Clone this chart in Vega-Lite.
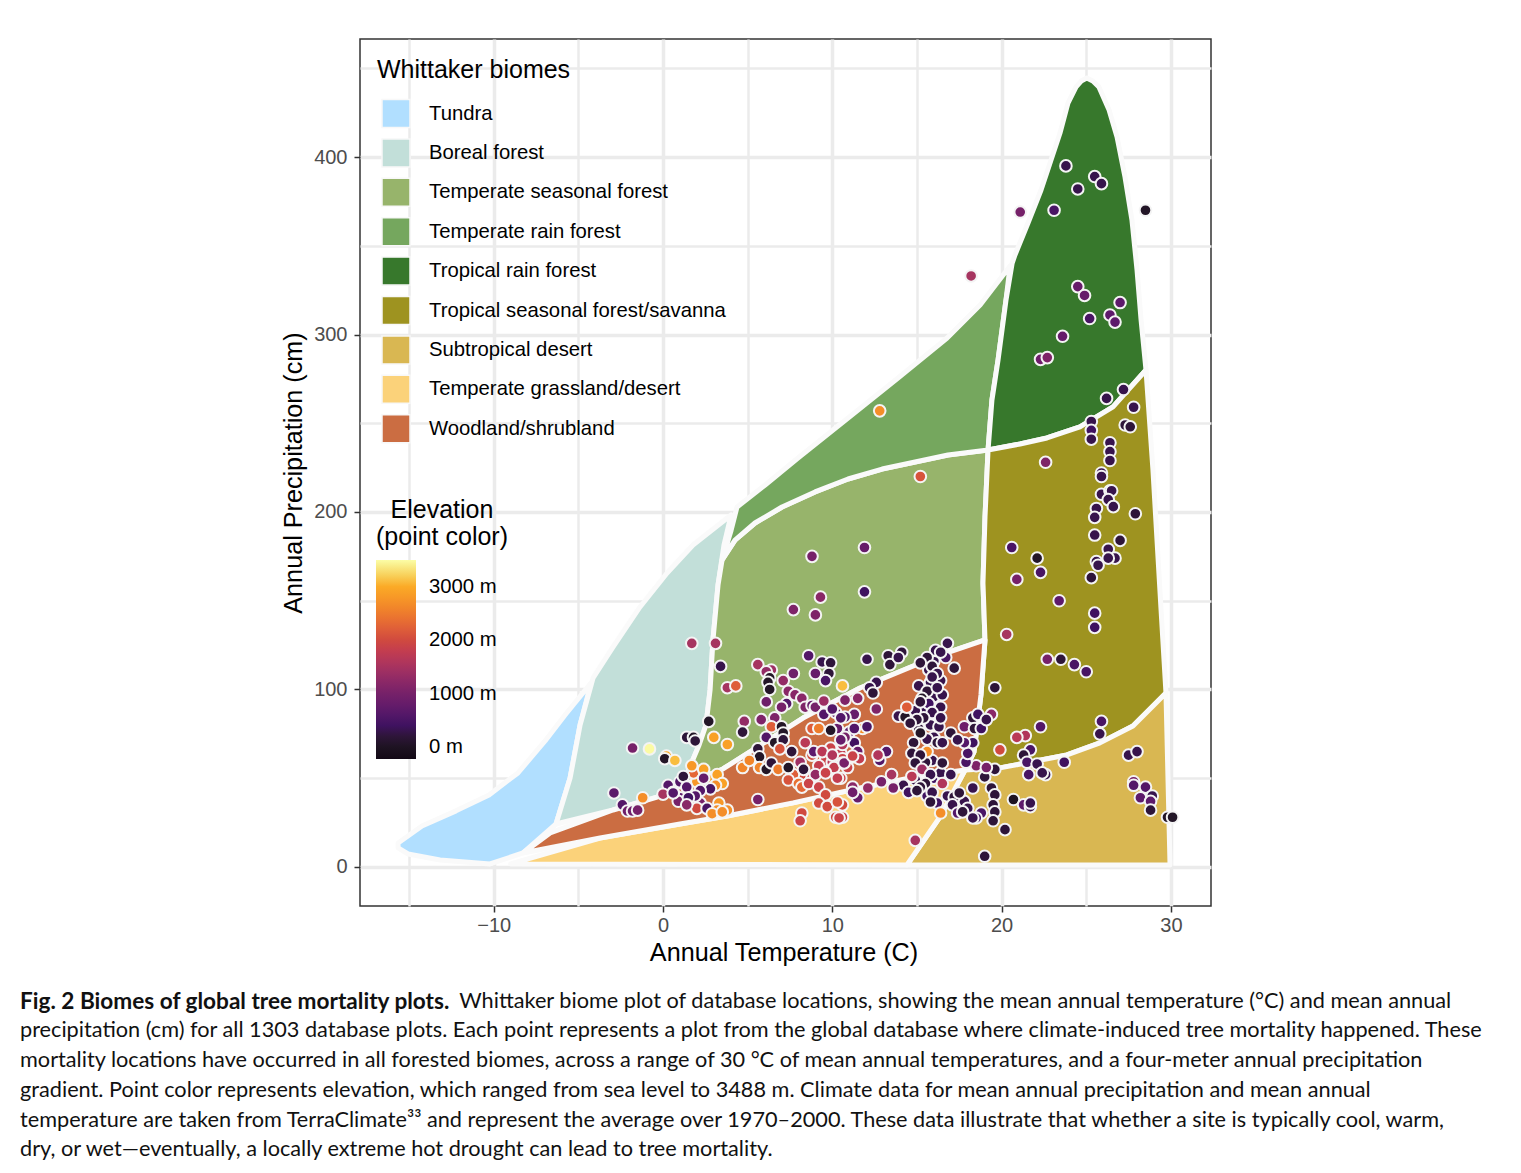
{"$schema":"https://vega.github.io/schema/vega-lite/v6.json","width":851,"height":867,"autosize":"none","padding":{"left":360,"top":39,"right":310,"bottom":267},"background":"white",
"title":{"text":"Fig. 2 Biomes of global tree mortality plots.","subtitle":["\u200b\u2003\u2003\u2003\u2003\u2003\u2003\u2003\u2003\u2003\u2003\u2003\u2003\u2003\u2003\u2003\u2003\u2003\u2003\u2003\u2003\u2003\u2003\u2003\u2003\u2003\u2003\u00a0\u00a0\u00a0Whittaker biome plot of database locations, showing the mean annual temperature (°C) and mean annual","precipitation (cm) for all 1303 database plots. Each point represents a plot from the global database where climate-induced tree mortality happened. These","mortality locations have occurred in all forested biomes, across a range of 30 °C of mean annual temperatures, and a four-meter annual precipitation","gradient. Point color represents elevation, which ranged from sea level to 3488 m. Climate data for mean annual precipitation and mean annual","temperature are taken from TerraClimate³³ and represent the average over 1970–2000. These data illustrate that whether a site is typically cool, warm,","dry, or wet—eventually, a locally extreme hot drought can lead to tree mortality."],"orient":"bottom","anchor":"start","frame":"group","dx":-340,"offset":26,"font":"Lato","fontSize":22.6,"fontWeight":"bold","color":"#111111","subtitleFont":"Lato","subtitleFontSize":21.7,"subtitleColor":"#111111","subtitleLineHeight":29.7,"subtitlePadding":-23},
"config":{"view":{"stroke":"#333333","strokeWidth":1.5}},
"datasets":{"biomes":[
{"b":"Tundra","i":0,"t":-15.65,"p":13.5},{"b":"Tundra","i":1,"t":-14.24,"p":23.1},{"b":"Tundra","i":2,"t":-12.23,"p":31.6},{"b":"Tundra","i":3,"t":-10.28,"p":40.6},{"b":"Tundra","i":4,"t":-8.57,"p":53},{"b":"Tundra","i":5,"t":-6.97,"p":71},{"b":"Tundra","i":6,"t":-5.79,"p":85.6},{"b":"Tundra","i":7,"t":-4.25,"p":103.7},{"b":"Tundra","i":8,"t":-4.9,"p":80},{"b":"Tundra","i":9,"t":-5.49,"p":50.1},{"b":"Tundra","i":10,"t":-6.32,"p":24.2},{"b":"Tundra","i":11,"t":-8.27,"p":7.9},{"b":"Tundra","i":12,"t":-10.22,"p":1.7},{"b":"Tundra","i":13,"t":-13.17,"p":3.9},{"b":"Tundra","i":14,"t":-15.06,"p":7.3},{"b":"Tundra","i":15,"t":-15.65,"p":10.7},
{"b":"Boreal forest","i":0,"t":-4.13,"p":106.5},{"b":"Boreal forest","i":1,"t":-2.95,"p":124},{"b":"Boreal forest","i":2,"t":-1.36,"p":146.5},{"b":"Boreal forest","i":3,"t":0.24,"p":165.6},{"b":"Boreal forest","i":4,"t":1.77,"p":181.4},{"b":"Boreal forest","i":5,"t":4.02,"p":198.3},{"b":"Boreal forest","i":6,"t":3.6,"p":181.4},{"b":"Boreal forest","i":7,"t":3.25,"p":158.9},{"b":"Boreal forest","i":8,"t":2.95,"p":127.9},{"b":"Boreal forest","i":9,"t":2.78,"p":99.7},{"b":"Boreal forest","i":10,"t":2.54,"p":80},{"b":"Boreal forest","i":11,"t":2.13,"p":68.7},{"b":"Boreal forest","i":12,"t":1.71,"p":59.2},{"b":"Boreal forest","i":13,"t":1.18,"p":46.2},{"b":"Boreal forest","i":14,"t":-0.35,"p":39.4},{"b":"Boreal forest","i":15,"t":-2.95,"p":32.1},{"b":"Boreal forest","i":16,"t":-6.32,"p":24.2},{"b":"Boreal forest","i":17,"t":-5.49,"p":50.1},{"b":"Boreal forest","i":18,"t":-4.9,"p":80},
{"b":"Temperate seasonal forest","i":0,"t":3.49,"p":173},{"b":"Temperate seasonal forest","i":1,"t":4.25,"p":184.2},{"b":"Temperate seasonal forest","i":2,"t":5.43,"p":193.8},{"b":"Temperate seasonal forest","i":3,"t":7.03,"p":202.8},{"b":"Temperate seasonal forest","i":4,"t":8.98,"p":211.3},{"b":"Temperate seasonal forest","i":5,"t":10.93,"p":218.6},{"b":"Temperate seasonal forest","i":6,"t":12.94,"p":224.2},{"b":"Temperate seasonal forest","i":7,"t":14.89,"p":228.2},{"b":"Temperate seasonal forest","i":8,"t":16.83,"p":232.1},{"b":"Temperate seasonal forest","i":9,"t":19.2,"p":234.9},{"b":"Temperate seasonal forest","i":10,"t":19.02,"p":197.2},{"b":"Temperate seasonal forest","i":11,"t":18.9,"p":160},{"b":"Temperate seasonal forest","i":12,"t":19.02,"p":127.9},{"b":"Temperate seasonal forest","i":13,"t":16.36,"p":119.4},{"b":"Temperate seasonal forest","i":14,"t":11.64,"p":100.8},{"b":"Temperate seasonal forest","i":15,"t":8.27,"p":83.9},{"b":"Temperate seasonal forest","i":16,"t":3.54,"p":55.2},{"b":"Temperate seasonal forest","i":17,"t":1.18,"p":46.2},{"b":"Temperate seasonal forest","i":18,"t":1.71,"p":59.2},{"b":"Temperate seasonal forest","i":19,"t":2.13,"p":68.7},{"b":"Temperate seasonal forest","i":20,"t":2.54,"p":80},{"b":"Temperate seasonal forest","i":21,"t":2.78,"p":99.7},{"b":"Temperate seasonal forest","i":22,"t":2.95,"p":127.9},{"b":"Temperate seasonal forest","i":23,"t":3.25,"p":158.9},
{"b":"Temperate rain forest","i":0,"t":4.37,"p":202.8},{"b":"Temperate rain forest","i":1,"t":6.03,"p":215.2},{"b":"Temperate rain forest","i":2,"t":7.97,"p":230.4},{"b":"Temperate rain forest","i":3,"t":10.93,"p":253},{"b":"Temperate rain forest","i":4,"t":13.88,"p":275.5},{"b":"Temperate rain forest","i":5,"t":16.78,"p":298},{"b":"Temperate rain forest","i":6,"t":18.73,"p":316.6},{"b":"Temperate rain forest","i":7,"t":20.5,"p":338.6},{"b":"Temperate rain forest","i":8,"t":20.26,"p":319.4},{"b":"Temperate rain forest","i":9,"t":19.79,"p":285.6},{"b":"Temperate rain forest","i":10,"t":19.43,"p":263.1},{"b":"Temperate rain forest","i":11,"t":19.2,"p":234.9},{"b":"Temperate rain forest","i":12,"t":16.83,"p":232.1},{"b":"Temperate rain forest","i":13,"t":14.89,"p":228.2},{"b":"Temperate rain forest","i":14,"t":12.94,"p":224.2},{"b":"Temperate rain forest","i":15,"t":10.93,"p":218.6},{"b":"Temperate rain forest","i":16,"t":8.98,"p":211.3},{"b":"Temperate rain forest","i":17,"t":7.03,"p":202.8},{"b":"Temperate rain forest","i":18,"t":5.43,"p":193.8},{"b":"Temperate rain forest","i":19,"t":4.25,"p":184.2},{"b":"Temperate rain forest","i":20,"t":3.49,"p":173},{"b":"Temperate rain forest","i":21,"t":4.02,"p":189.6},
{"b":"Tropical rain forest","i":0,"t":20.79,"p":344.8},{"b":"Tropical rain forest","i":1,"t":21.56,"p":362.8},{"b":"Tropical rain forest","i":2,"t":22.33,"p":381.4},{"b":"Tropical rain forest","i":3,"t":22.92,"p":398.3},{"b":"Tropical rain forest","i":4,"t":23.45,"p":413.5},{"b":"Tropical rain forest","i":5,"t":23.92,"p":430.4},{"b":"Tropical rain forest","i":6,"t":24.4,"p":439.5},{"b":"Tropical rain forest","i":7,"t":24.7,"p":442.8},{"b":"Tropical rain forest","i":8,"t":25.03,"p":444.5},{"b":"Tropical rain forest","i":9,"t":25.39,"p":442.8},{"b":"Tropical rain forest","i":10,"t":25.75,"p":439.5},{"b":"Tropical rain forest","i":11,"t":26.35,"p":426.5},{"b":"Tropical rain forest","i":12,"t":26.82,"p":411.3},{"b":"Tropical rain forest","i":13,"t":27.29,"p":388.7},{"b":"Tropical rain forest","i":14,"t":27.7,"p":364.5},{"b":"Tropical rain forest","i":15,"t":28,"p":336.4},{"b":"Tropical rain forest","i":16,"t":28.24,"p":308.2},{"b":"Tropical rain forest","i":17,"t":28.53,"p":280},{"b":"Tropical rain forest","i":18,"t":26.58,"p":259.2},{"b":"Tropical rain forest","i":19,"t":24.63,"p":247.9},{"b":"Tropical rain forest","i":20,"t":22.68,"p":241.7},{"b":"Tropical rain forest","i":21,"t":21.09,"p":238.3},{"b":"Tropical rain forest","i":22,"t":19.2,"p":234.9},{"b":"Tropical rain forest","i":23,"t":19.43,"p":263.1},{"b":"Tropical rain forest","i":24,"t":19.79,"p":285.6},{"b":"Tropical rain forest","i":25,"t":20.26,"p":319.4},{"b":"Tropical rain forest","i":26,"t":20.62,"p":340},
{"b":"Tropical seasonal forest/savanna","i":0,"t":19.2,"p":234.9},{"b":"Tropical seasonal forest/savanna","i":1,"t":21.09,"p":238.3},{"b":"Tropical seasonal forest/savanna","i":2,"t":22.68,"p":241.7},{"b":"Tropical seasonal forest/savanna","i":3,"t":24.63,"p":247.9},{"b":"Tropical seasonal forest/savanna","i":4,"t":26.58,"p":259.2},{"b":"Tropical seasonal forest/savanna","i":5,"t":28.53,"p":280},{"b":"Tropical seasonal forest/savanna","i":6,"t":28.94,"p":223.7},{"b":"Tropical seasonal forest/savanna","i":7,"t":29.42,"p":144.8},{"b":"Tropical seasonal forest/savanna","i":8,"t":29.71,"p":98},{"b":"Tropical seasonal forest/savanna","i":9,"t":27.76,"p":79.4},{"b":"Tropical seasonal forest/savanna","i":10,"t":25.81,"p":69.9},{"b":"Tropical seasonal forest/savanna","i":11,"t":23.86,"p":63.1},{"b":"Tropical seasonal forest/savanna","i":12,"t":19.91,"p":55.8},{"b":"Tropical seasonal forest/savanna","i":13,"t":17.84,"p":54.6},{"b":"Tropical seasonal forest/savanna","i":14,"t":18.37,"p":64.8},{"b":"Tropical seasonal forest/savanna","i":15,"t":18.78,"p":96.9},{"b":"Tropical seasonal forest/savanna","i":16,"t":19.02,"p":127.9},{"b":"Tropical seasonal forest/savanna","i":17,"t":18.9,"p":160},{"b":"Tropical seasonal forest/savanna","i":18,"t":19.02,"p":197.2},
{"b":"Subtropical desert","i":0,"t":17.84,"p":54.6},{"b":"Subtropical desert","i":1,"t":19.91,"p":55.8},{"b":"Subtropical desert","i":2,"t":23.86,"p":63.1},{"b":"Subtropical desert","i":3,"t":25.81,"p":69.9},{"b":"Subtropical desert","i":4,"t":27.76,"p":79.4},{"b":"Subtropical desert","i":5,"t":29.71,"p":98},{"b":"Subtropical desert","i":6,"t":29.95,"p":1.1},{"b":"Subtropical desert","i":7,"t":14.41,"p":1.1},{"b":"Subtropical desert","i":8,"t":16.36,"p":28.2},
{"b":"Temperate grassland/desert","i":0,"t":-9,"p":1.7},{"b":"Temperate grassland/desert","i":1,"t":-3.72,"p":16.3},{"b":"Temperate grassland/desert","i":2,"t":1,"p":24.2},{"b":"Temperate grassland/desert","i":3,"t":3.78,"p":28.7},{"b":"Temperate grassland/desert","i":4,"t":7.68,"p":36.1},{"b":"Temperate grassland/desert","i":5,"t":11.64,"p":44.5},{"b":"Temperate grassland/desert","i":6,"t":15.18,"p":51.3},{"b":"Temperate grassland/desert","i":7,"t":17.84,"p":54.6},{"b":"Temperate grassland/desert","i":8,"t":16.36,"p":28.2},{"b":"Temperate grassland/desert","i":9,"t":14.41,"p":1.1},
{"b":"Woodland/shrubland","i":0,"t":-8.27,"p":7.9},{"b":"Woodland/shrubland","i":1,"t":-6.67,"p":19.2},{"b":"Woodland/shrubland","i":2,"t":-2.95,"p":32.1},{"b":"Woodland/shrubland","i":3,"t":-0.35,"p":39.4},{"b":"Woodland/shrubland","i":4,"t":1.18,"p":46.2},{"b":"Woodland/shrubland","i":5,"t":3.54,"p":55.2},{"b":"Woodland/shrubland","i":6,"t":8.27,"p":83.9},{"b":"Woodland/shrubland","i":7,"t":11.64,"p":100.8},{"b":"Woodland/shrubland","i":8,"t":16.36,"p":119.4},{"b":"Woodland/shrubland","i":9,"t":19.02,"p":127.9},{"b":"Woodland/shrubland","i":10,"t":18.78,"p":96.9},{"b":"Woodland/shrubland","i":11,"t":18.37,"p":64.8},{"b":"Woodland/shrubland","i":12,"t":17.84,"p":54.6},{"b":"Woodland/shrubland","i":13,"t":15.18,"p":51.3},{"b":"Woodland/shrubland","i":14,"t":11.64,"p":44.5},{"b":"Woodland/shrubland","i":15,"t":7.68,"p":36.1},{"b":"Woodland/shrubland","i":16,"t":3.78,"p":28.7},{"b":"Woodland/shrubland","i":17,"t":1,"p":24.2},{"b":"Woodland/shrubland","i":18,"t":-3.72,"p":16.3}
],
"plots":[
{"t":16,"p":116,"e":300},{"t":15.7,"p":111,"e":300},{"t":16.4,"p":105,"e":300},{"t":15.8,"p":104,"e":300},{"t":16,"p":96,"e":300},{"t":16.5,"p":97,"e":300},{"t":15.5,"p":89,"e":300},{"t":16.2,"p":86,"e":300},{"t":15.8,"p":80,"e":300},{"t":16.3,"p":79,"e":300},{"t":15.1,"p":78,"e":200},{"t":16,"p":73,"e":300},{"t":15.6,"p":72,"e":300},{"t":13.9,"p":85,"e":300},{"t":14.9,"p":88,"e":300},{"t":15.9,"p":60,"e":300},{"t":15.5,"p":59,"e":200},{"t":16,"p":50,"e":400},{"t":16.4,"p":53,"e":300},{"t":14.9,"p":49,"e":300},{"t":15.6,"p":40,"e":400},{"t":16.8,"p":40,"e":300},{"t":17.8,"p":37,"e":300},{"t":18,"p":33,"e":300},{"t":2,"p":48,"e":2800},{"t":2.7,"p":49,"e":2900},{"t":1,"p":48,"e":600},{"t":3.3,"p":36,"e":2800},{"t":2.2,"p":36,"e":1000},{"t":1,"p":39,"e":700},{"t":0.9,"p":37,"e":1000},{"t":2,"p":33,"e":2000},{"t":8.8,"p":63,"e":2000},{"t":9.6,"p":60,"e":1900},{"t":10,"p":59,"e":1700},{"t":9.9,"p":67,"e":1900},{"t":10.5,"p":64,"e":1800},{"t":8.2,"p":52,"e":2000},{"t":8.8,"p":50,"e":1900},{"t":7.7,"p":52,"e":2200},{"t":11,"p":76,"e":700},{"t":10.3,"p":78,"e":800},{"t":10.9,"p":56,"e":1900},
{"t":23.8,"p":395,"e":300},{"t":24.5,"p":382,"e":300},{"t":25.5,"p":389,"e":300},{"t":25.9,"p":385,"e":300},{"t":28.5,"p":370,"e":100},{"t":21.1,"p":369,"e":1000},{"t":23.1,"p":370,"e":500},{"t":18.2,"p":333,"e":1500},{"t":24.5,"p":327,"e":800},{"t":24.9,"p":322,"e":800},{"t":27,"p":318,"e":700},{"t":26.4,"p":311,"e":700},{"t":26.7,"p":307,"e":700},{"t":25.2,"p":309,"e":500},{"t":23.6,"p":299,"e":800},{"t":22.3,"p":286,"e":900},{"t":22.7,"p":287,"e":1100},{"t":26.2,"p":264,"e":300},{"t":27.2,"p":269,"e":300},{"t":27.8,"p":259,"e":300},{"t":27.3,"p":249,"e":200},{"t":27.6,"p":248,"e":200},{"t":25.3,"p":251,"e":300},{"t":25.3,"p":246,"e":400},{"t":25.3,"p":241,"e":300},{"t":26.4,"p":239,"e":300},{"t":26.4,"p":234,"e":300},{"t":26.4,"p":229,"e":300},{"t":25.9,"p":222,"e":300},{"t":25.9,"p":220,"e":300},{"t":22.6,"p":228,"e":1100},{"t":25.9,"p":210,"e":300},{"t":26.4,"p":212,"e":300},{"t":26.5,"p":212,"e":300},{"t":26.3,"p":207,"e":300},{"t":26.6,"p":203,"e":300},{"t":25.6,"p":202,"e":300},{"t":25.5,"p":197,"e":300},{"t":27.9,"p":199,"e":200},{"t":25.5,"p":187,"e":300},{"t":27,"p":184,"e":200},{"t":26.3,"p":179,"e":300},{"t":26.7,"p":174,"e":300},{"t":26.3,"p":174,"e":300},{"t":25.6,"p":172,"e":300},{"t":25.7,"p":170,"e":300},{"t":25.3,"p":163,"e":200},{"t":20.6,"p":180,"e":500},{"t":22.1,"p":174,"e":100},{"t":22.3,"p":166,"e":500},{"t":20.9,"p":162,"e":1000},{"t":23.4,"p":150,"e":700},{"t":25.5,"p":143,"e":400},{"t":25.5,"p":135,"e":400},{"t":20.3,"p":131,"e":1500},{"t":22.7,"p":117,"e":1000},{"t":23.5,"p":117,"e":200},{"t":24.3,"p":114,"e":500},{"t":25,"p":110,"e":500},{"t":19.6,"p":101,"e":200},{"t":25.9,"p":82,"e":500},{"t":25.8,"p":75,"e":300},{"t":22.3,"p":79,"e":600},{"t":21.4,"p":74,"e":1600},{"t":20.9,"p":73,"e":1700},{"t":19.9,"p":66,"e":2000},{"t":21.7,"p":66,"e":500},{"t":21.3,"p":63,"e":200},{"t":21.5,"p":59,"e":500},{"t":22.1,"p":58,"e":300},{"t":21.6,"p":52,"e":500},{"t":22.6,"p":52,"e":300},{"t":22.4,"p":53,"e":300},{"t":23.7,"p":59,"e":400},{"t":27.5,"p":63,"e":300},{"t":28,"p":65,"e":300},{"t":27.8,"p":48,"e":1000},{"t":27.8,"p":46,"e":600},{"t":28.5,"p":45,"e":600},{"t":28.9,"p":40,"e":300},{"t":28.2,"p":39,"e":700},{"t":28.8,"p":37,"e":700},{"t":28.8,"p":32,"e":200},{"t":29.8,"p":28,"e":100},{"t":30.1,"p":28,"e":100},{"t":20.7,"p":38,"e":0},{"t":21.3,"p":35,"e":700},{"t":21.7,"p":34,"e":300},{"t":21.7,"p":36,"e":300},{"t":20.2,"p":21,"e":200},{"t":19,"p":6,"e":200},
{"t":12.05,"p":117,"e":300},{"t":13.3,"p":119,"e":200},{"t":13.4,"p":114,"e":200},{"t":14.1,"p":121,"e":200},{"t":13.9,"p":118,"e":300},{"t":12.6,"p":104,"e":300},{"t":12.2,"p":101,"e":300},{"t":12.4,"p":98,"e":200},{"t":10.6,"p":102,"e":3100},{"t":10.75,"p":94,"e":1100},{"t":11.5,"p":95,"e":1200},{"t":12.6,"p":89,"e":1100},{"t":16.8,"p":126,"e":300},{"t":16.1,"p":122,"e":300},{"t":16.7,"p":118,"e":500},{"t":16.4,"p":121,"e":300},{"t":15.6,"p":118,"e":200},{"t":15.2,"p":115,"e":200},{"t":15.9,"p":113,"e":200},{"t":17.2,"p":112,"e":200},{"t":16.2,"p":109,"e":300},{"t":15.9,"p":107,"e":300},{"t":15.1,"p":102,"e":300},{"t":15.6,"p":99,"e":200},{"t":16.2,"p":101,"e":300},{"t":15.3,"p":95,"e":100},{"t":15.7,"p":92,"e":400},{"t":16.4,"p":90,"e":300},{"t":15.2,"p":93,"e":200},{"t":15.9,"p":87,"e":300},{"t":16.4,"p":84,"e":300},{"t":15.4,"p":84,"e":200},{"t":15,"p":83,"e":200},{"t":14.3,"p":84.5,"e":100},{"t":14.6,"p":81,"e":200},{"t":14.4,"p":90,"e":2200},{"t":15.2,"p":75.5,"e":100},{"t":14.8,"p":70,"e":200},{"t":16.2,"p":70,"e":200},{"t":16.5,"p":70,"e":300},{"t":17,"p":75.5,"e":200},{"t":15.6,"p":65,"e":2700},{"t":14.7,"p":64,"e":200},{"t":15.2,"p":63,"e":200},{"t":14.9,"p":58.6,"e":200},{"t":15.3,"p":55,"e":1400},{"t":16.5,"p":58.6,"e":200},{"t":17,"p":52,"e":300},{"t":15.8,"p":52,"e":300},{"t":14.7,"p":51,"e":1700},{"t":15.5,"p":47,"e":200},{"t":15.2,"p":45,"e":200},{"t":14.2,"p":46,"e":300},{"t":14.5,"p":42,"e":400},{"t":15.9,"p":42,"e":300},{"t":15,"p":43,"e":200},{"t":16.5,"p":47,"e":1600},{"t":17.2,"p":39.4,"e":200},{"t":17.1,"p":35,"e":300},{"t":16.2,"p":36,"e":400},{"t":15.8,"p":36.6,"e":200},{"t":16.4,"p":30.4,"e":2700},{"t":17.4,"p":30.4,"e":600},{"t":17.7,"p":31,"e":200},{"t":17.5,"p":41.7,"e":200},{"t":18.3,"p":44.5,"e":300},{"t":19,"p":50.7,"e":200},{"t":19.6,"p":55,"e":200},{"t":18.5,"p":57,"e":1100},{"t":19.1,"p":56,"e":1000},{"t":17.9,"p":59,"e":500},{"t":18,"p":64,"e":500},{"t":18.3,"p":70,"e":400},{"t":17.8,"p":70,"e":600},{"t":17.4,"p":71.6,"e":300},{"t":17.8,"p":79,"e":900},{"t":18.3,"p":84,"e":200},{"t":18.6,"p":86,"e":400},{"t":19.4,"p":86,"e":1200},{"t":18.4,"p":78,"e":200},{"t":18.8,"p":78,"e":400},{"t":19.1,"p":83,"e":300},{"t":19.4,"p":44.5,"e":200},{"t":19.6,"p":40.6,"e":200},{"t":19.5,"p":35,"e":200},{"t":19.6,"p":31,"e":200},{"t":19.5,"p":26,"e":200},{"t":18.8,"p":30.4,"e":500},{"t":18.5,"p":27.6,"e":400},{"t":18.3,"p":27.6,"e":300},{"t":14.9,"p":15,"e":1500},{"t":13.2,"p":65,"e":600},{"t":12.8,"p":60,"e":600},{"t":12.7,"p":63,"e":1600},{"t":13.5,"p":52,"e":1500},{"t":12.9,"p":48,"e":1000},{"t":12.1,"p":44.5,"e":1300},{"t":13.6,"p":44.5,"e":1000},{"t":11.2,"p":45,"e":1200},{"t":11.5,"p":39,"e":800},{"t":11.2,"p":42,"e":900},{"t":11.3,"p":70,"e":400},{"t":10.6,"p":69,"e":1600},{"t":11.5,"p":65,"e":800},{"t":11.8,"p":78,"e":2700},{"t":11.3,"p":78,"e":600},{"t":12.05,"p":79,"e":500},{"t":10.75,"p":73,"e":1000},{"t":11.2,"p":62,"e":1700},{"t":11.6,"p":61,"e":1800},{"t":10.6,"p":61,"e":1900},{"t":10.6,"p":58.6,"e":1000},{"t":10.5,"p":50,"e":1900},{"t":10.6,"p":35,"e":2000},{"t":10.6,"p":28,"e":1900},{"t":11.3,"p":86,"e":800},{"t":10.75,"p":84.5,"e":600},
{"t":1.7,"p":126,"e":1500},{"t":3.1,"p":126,"e":1500},{"t":3.4,"p":113,"e":300},{"t":3.8,"p":101,"e":1500},{"t":4.3,"p":102,"e":2200},{"t":5.6,"p":114,"e":1500},{"t":6.4,"p":111,"e":1400},{"t":6.1,"p":110,"e":1300},{"t":6.3,"p":106.5,"e":100},{"t":6.2,"p":104,"e":100},{"t":6.3,"p":100,"e":100},{"t":7.1,"p":105,"e":1300},{"t":7.7,"p":109,"e":900},{"t":8.6,"p":119,"e":600},{"t":9.4,"p":115.5,"e":300},{"t":9.9,"p":115,"e":200},{"t":9,"p":109,"e":800},{"t":9.8,"p":109,"e":200},{"t":9.6,"p":105,"e":500},{"t":7.4,"p":99,"e":1200},{"t":7.8,"p":97,"e":1200},{"t":6.1,"p":93,"e":900},{"t":7.3,"p":92,"e":600},{"t":7,"p":90,"e":1000},{"t":8.2,"p":95,"e":1200},{"t":8.4,"p":90,"e":1100},{"t":8.8,"p":91,"e":800},{"t":9,"p":90,"e":1000},{"t":9.5,"p":93.5,"e":1400},{"t":4.8,"p":82,"e":1300},{"t":2.7,"p":82,"e":100},{"t":4.7,"p":76,"e":200},{"t":5.8,"p":83,"e":1100},{"t":6.6,"p":84,"e":1100},{"t":1.4,"p":73,"e":200},{"t":1.8,"p":73,"e":100},{"t":1.9,"p":71,"e":200},{"t":3,"p":73,"e":2900},{"t":3.8,"p":69,"e":2900},{"t":6.4,"p":79,"e":2200},{"t":6.1,"p":73,"e":600},{"t":7,"p":79,"e":100},{"t":7.1,"p":75.5,"e":100},{"t":6.6,"p":70,"e":100},{"t":7.1,"p":71.6,"e":200},{"t":9.5,"p":86,"e":600},{"t":10.2,"p":87,"e":700},{"t":10,"p":89,"e":600},{"t":10.5,"p":84,"e":600},{"t":9.9,"p":77,"e":100},{"t":8.8,"p":78,"e":2200},{"t":9.2,"p":78,"e":2500},{"t":10.5,"p":71.6,"e":800},{"t":8.4,"p":70,"e":1700},{"t":6.9,"p":66.5,"e":2100},{"t":7.6,"p":65,"e":200},{"t":5.6,"p":66.5,"e":200},{"t":5.7,"p":62,"e":100},{"t":8.9,"p":65,"e":700},{"t":9.4,"p":65,"e":1700},{"t":10,"p":63,"e":1600},{"t":8.1,"p":59,"e":1400},{"t":9.2,"p":57,"e":1800},{"t":10.1,"p":56,"e":1800},{"t":10.7,"p":58.6,"e":1000},{"t":11.2,"p":62.5,"e":1900},{"t":4.7,"p":56,"e":2600},{"t":5.1,"p":60,"e":2600},{"t":5.7,"p":56,"e":2600},{"t":6.1,"p":55,"e":100},{"t":6.4,"p":58.6,"e":200},{"t":6.8,"p":55,"e":2500},{"t":7.4,"p":56,"e":100},{"t":8.3,"p":55,"e":200},{"t":9,"p":52,"e":1300},{"t":9.6,"p":53,"e":1900},{"t":10.3,"p":50,"e":1800},{"t":7.4,"p":49,"e":2100},{"t":8,"p":47,"e":2400},{"t":8.2,"p":45,"e":2300},{"t":8.6,"p":47,"e":1900},{"t":9.2,"p":45,"e":1900},{"t":9.6,"p":40.6,"e":2000},{"t":9.2,"p":36,"e":2000},{"t":9.7,"p":34,"e":2000},{"t":10.3,"p":36.6,"e":2100},{"t":10.2,"p":28,"e":2000},{"t":10.4,"p":27.6,"e":1900},{"t":8.2,"p":30.4,"e":2000},{"t":8.1,"p":26,"e":1900},{"t":5.6,"p":38,"e":1000},{"t":1.8,"p":53,"e":2300},{"t":1.7,"p":57,"e":2800},{"t":2.4,"p":55,"e":2900},{"t":1.2,"p":51,"e":200},{"t":2.4,"p":50,"e":800},{"t":3.2,"p":52,"e":2900},{"t":3.5,"p":47,"e":2900},{"t":3.1,"p":46,"e":2700},{"t":2.8,"p":44,"e":500},{"t":2.2,"p":43,"e":600},{"t":1.4,"p":45,"e":600},{"t":0.3,"p":46,"e":600},{"t":0.6,"p":42,"e":600},{"t":1.9,"p":40,"e":600},{"t":1.5,"p":39,"e":400},{"t":0,"p":41,"e":1500},{"t":1.4,"p":35,"e":1200},{"t":2.6,"p":33,"e":500},{"t":3.2,"p":32,"e":2700},{"t":3.8,"p":32,"e":2700},{"t":2.9,"p":30,"e":2700},{"t":3.5,"p":31,"e":2700},{"t":0.2,"p":62.5,"e":3000},{"t":0.1,"p":61,"e":100},{"t":0.7,"p":60,"e":3100},{"t":-1.8,"p":67,"e":1000},{"t":-0.8,"p":66.5,"e":3488},{"t":-2.9,"p":41.7,"e":700},{"t":-2.4,"p":35,"e":600},{"t":-2.1,"p":31.5,"e":900},{"t":-1.8,"p":31.5,"e":900},{"t":-1.5,"p":32,"e":1000},{"t":-1.2,"p":39,"e":2700},{"t":0.6,"p":41.7,"e":600},{"t":8.8,"p":175,"e":1000},{"t":11.9,"p":180,"e":800},{"t":11.9,"p":155,"e":400},{"t":7.7,"p":145,"e":1100},{"t":9.3,"p":152,"e":1200},{"t":9,"p":142,"e":1100},{"t":12.8,"p":257,"e":2700},{"t":15.2,"p":220,"e":2100}
]},
"encoding":{
"x":{"field":"t","type":"quantitative","scale":{"domain":[-17.9,32.37],"nice":false,"zero":false},"axis":{"title":"Annual Temperature (C)","titleFont":"Liberation Sans","titleFontSize":25.2,"titleFontWeight":"normal","titleColor":"#000000","titlePadding":5,"titleX":423.5,"values":[-15,-10,-5,0,5,10,15,20,25,30],"labelExpr":"datum.value % 10 === 0 ? replace(datum.label,'-','−') : ''","labelFont":"Liberation Sans","labelFontSize":20,"labelColor":"#4D4D4D","labelPadding":3,"labelFlush":false,"labelOverlap":false,"domain":false,"tickColor":"#333333","tickSize":6,"tickWidth":1.5,"tickOpacity":{"condition":{"test":"datum.value % 10 === 0","value":1},"value":0},"gridColor":"#EBEBEB","gridWidth":{"condition":{"test":"datum.value % 10 === 0","value":3.5},"value":2.5}}},
"y":{"field":"p","type":"quantitative","scale":{"domain":[-22,466.5],"nice":false,"zero":false},"axis":{"title":"Annual Precipitation (cm)","titleFont":"Liberation Sans","titleFontSize":25.2,"titleFontWeight":"normal","titleColor":"#000000","titlePadding":7,"values":[0,50,100,150,200,250,300,350,400,450],"labelExpr":"datum.value % 100 === 0 ? datum.label : ''","labelFont":"Liberation Sans","labelFontSize":20,"labelColor":"#4D4D4D","labelPadding":7,"labelOverlap":false,"domain":false,"tickColor":"#333333","tickSize":6,"tickWidth":1.5,"tickOpacity":{"condition":{"test":"datum.value % 100 === 0","value":1},"value":0},"gridColor":"#EBEBEB","gridWidth":{"condition":{"test":"datum.value % 100 === 0","value":3.5},"value":2.5}}}
},
"layer":[
{"data":{"name":"biomes"},"mark":{"type":"line","stroke":"#FAFAFA","strokeWidth":5,"interpolate":"linear-closed","strokeJoin":"round"},
"encoding":{"order":{"field":"i","type":"quantitative"},
"fill":{"field":"b","type":"nominal","scale":{"domain":["Tundra","Boreal forest","Temperate seasonal forest","Temperate rain forest","Tropical rain forest","Tropical seasonal forest/savanna","Subtropical desert","Temperate grassland/desert","Woodland/shrubland"],"range":["#B1DFFF","#C2DFD9","#97B46B","#75A75E","#37782C","#9E9320","#D9B752","#FBD27A","#CB6D42"]},
"legend":{"title":"Whittaker biomes","orient":"none","legendX":17,"legendY":19,"symbolType":"square","symbolSize":784,"symbolStrokeColor":"#F8F8F8","symbolStrokeWidth":1.5,"symbolOpacity":1,"symbolOffset":4,"titleFont":"Liberation Sans","titleFontSize":25,"titleFontWeight":"normal","titleColor":"#000000","titlePadding":15.5,"titleLimit":500,"labelFont":"Liberation Sans","labelFontSize":20.3,"labelColor":"#000000","labelOffset":18,"rowPadding":5.4,"labelLimit":400}}}},
{"data":{"name":"plots"},"mark":{"type":"point","filled":true,"shape":"circle","size":135,"stroke":"#F4F4F4","strokeWidth":2,"opacity":1},
"encoding":{"fill":{"field":"e","type":"quantitative","scale":{"domain":[-225,100,400,700,1100,1500,2000,2500,3000,3500],"range":["#120816","#231627","#3F1260","#5D1A6B","#7E2468","#A63560","#D04A3F","#EE7C2C","#FBAA26","#FCFDA6"],"nice":false,"zero":false},
"legend":{"title":["Elevation","(point color)"],"orient":"none","legendX":16,"legendY":459,"type":"gradient","gradientLength":199,"gradientThickness":40,"values":[0,1000,2000,3000],"labelExpr":"datum.value + ' m\u00a0\u00a0\u200b'","titleFont":"Liberation Sans","titleFontSize":25,"titleFontWeight":"normal","titleColor":"#000000","titleLineHeight":27,"titlePadding":10,"titleAlign":"center","titleAnchor":"middle","labelFont":"Liberation Sans","labelFontSize":20.3,"labelColor":"#000000","labelOffset":13,"gradientStrokeWidth":0}}}}
],
"resolve":{"scale":{"fill":"independent"}}}
